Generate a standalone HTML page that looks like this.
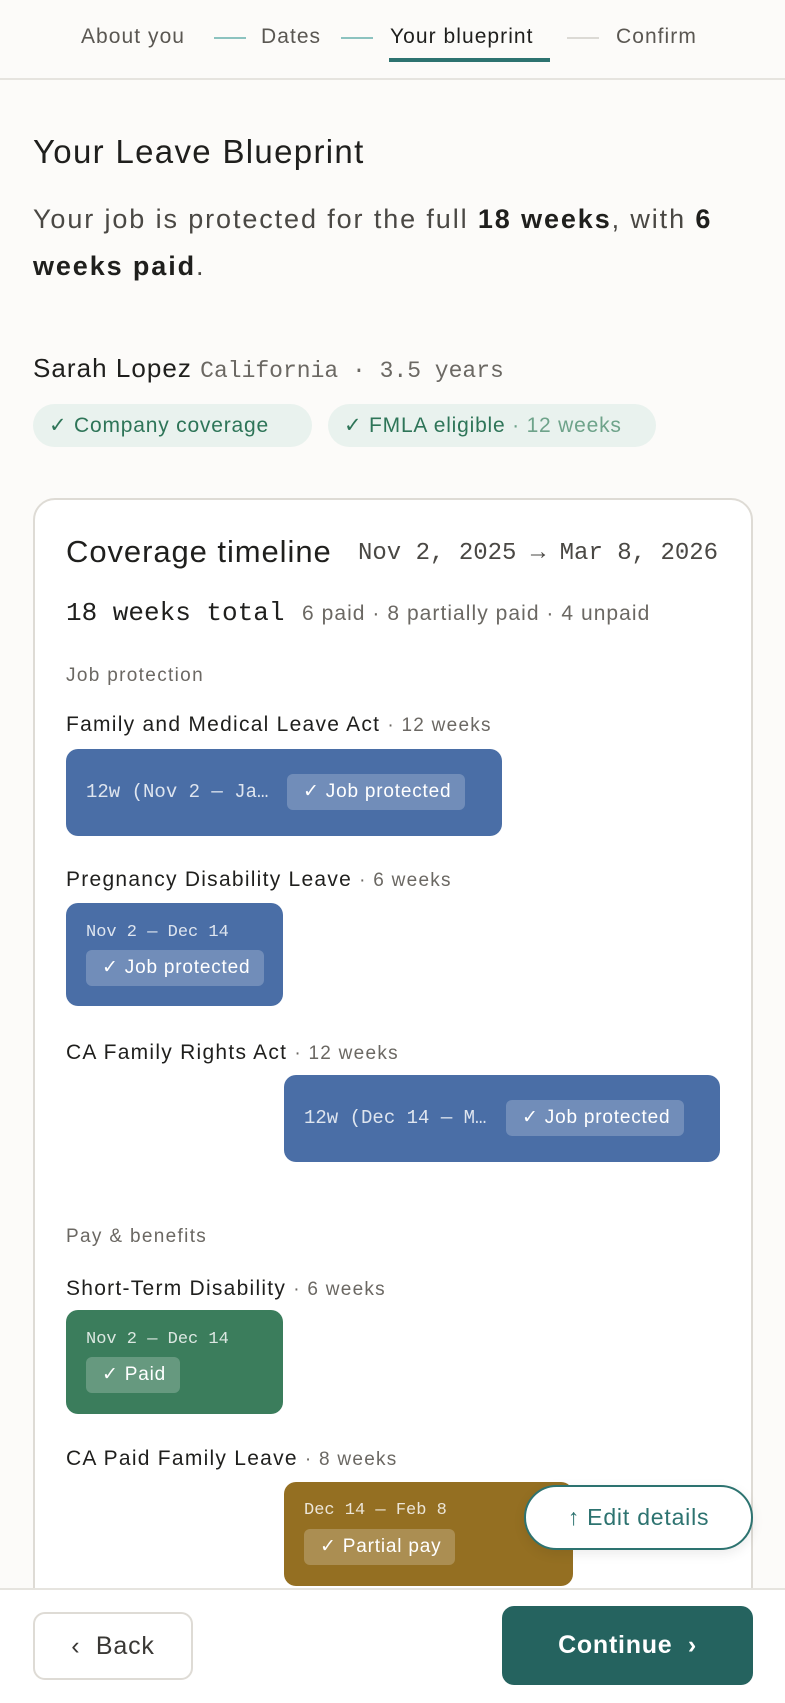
<!DOCTYPE html>
<html><head><meta charset="utf-8"><style>
*{box-sizing:border-box;margin:0;padding:0}
html,body{width:785px;height:1703px;overflow:hidden}
body{background:#fcfbf9;font-family:"Liberation Sans",sans-serif;color:#1f1f1d;position:relative;letter-spacing:0.05em}
.a{position:absolute;white-space:nowrap}
.mono{font-family:"Liberation Mono",monospace;letter-spacing:0}
.nav{font-size:21px;color:#5a5752;top:25px;letter-spacing:0.05em}
.dash{position:absolute;top:37px;height:2px;width:32px;background:#8cc3c0}
.chip{position:absolute;height:43px;top:404px;border-radius:22px;background:#e9f2ee;color:#2e7558;font-size:21px;line-height:43px;padding-left:16px}
.lbl{font-size:21px;color:#1f1f1d;letter-spacing:0.06em}
.lbl span{color:#6b6863;font-size:19px}
.bar{position:absolute;border-radius:12px;color:#fff}
.badge{position:absolute;background:rgba(255,255,255,.22);border-radius:6px;font-size:19px;line-height:36px;padding:0 14px 0 16px;color:#fff;white-space:nowrap}
.bm{font-family:"Liberation Mono",monospace;letter-spacing:0;font-size:19px;color:rgba(255,255,255,.82);position:absolute;white-space:nowrap}
.sec{font-size:19px;color:#6b6863;letter-spacing:0.07em}
</style></head><body>
<div class="a nav" style="left:81px">About you</div>
<div class="dash" style="left:214px"></div>
<div class="a nav" style="left:261px">Dates</div>
<div class="dash" style="left:341px"></div>
<div class="a nav" style="left:390px;color:#1f1f1d">Your blueprint</div>
<div class="a" style="left:389px;top:58px;width:161px;height:4px;background:#2d7370"></div>
<div class="dash" style="left:567px;background:#dcdad5"></div>
<div class="a nav" style="left:616px">Confirm</div>
<div class="a" style="left:0;top:78px;width:785px;height:2px;background:#e6e4df"></div>

<div class="a" style="left:33px;top:133px;font-size:33px;letter-spacing:0.04em">Your Leave Blueprint</div>
<div class="a" style="left:33px;top:196px;font-size:27px;line-height:47px;color:#4a4844;letter-spacing:0.07em">Your job is protected for the full <b style="color:#1f1f1d">18 weeks</b>, with <b style="color:#1f1f1d">6<br>weeks paid</b>.</div>

<div class="a" style="left:33px;top:353px;font-size:26px;letter-spacing:0.04em">Sarah Lopez <span class="mono" style="font-size:23px;color:#6b6863">California · 3.5 years</span></div>
<div class="chip" style="left:33px;width:279px">✓ Company coverage</div>
<div class="chip" style="left:328px;width:328px">✓ FMLA eligible <span style="color:#6ea38a">· 12 weeks</span></div>

<div class="a" style="left:33px;top:498px;width:720px;height:1250px;border:2px solid #dedbd5;border-radius:22px;background:#fff"></div>
<div class="a" style="left:66px;top:534px;font-size:31px;letter-spacing:0.03em">Coverage timeline</div>
<div class="a mono" style="left:358px;top:540px;font-size:24px;color:#4a4844">Nov 2, 2025 → Mar 8, 2026</div>
<div class="a mono" style="left:66px;top:598px;font-size:26px">18 weeks total</div>
<div class="a" style="left:302px;top:602px;font-size:21px;color:#6b6863;letter-spacing:0.05em">6 paid · 8 partially paid · 4 unpaid</div>

<div class="a sec" style="left:66px;top:665px">Job protection</div>
<div class="a lbl" style="left:66px;top:713px">Family and Medical Leave Act <span>· 12 weeks</span></div>
<div class="bar" style="left:66px;top:749px;width:436px;height:87px;background:#4a6ea6">
 <div class="bm" style="left:20px;top:32px">12w (Nov 2 — Ja…</div>
 <div class="badge" style="left:221px;top:25px">✓ Job protected</div></div>

<div class="a lbl" style="left:66px;top:868px">Pregnancy Disability Leave <span>· 6 weeks</span></div>
<div class="bar" style="left:66px;top:903px;width:217px;height:103px;background:#4a6ea6">
 <div class="bm" style="left:20px;top:20px;font-size:17px">Nov 2 — Dec 14</div>
 <div class="badge" style="left:20px;top:47px">✓ Job protected</div></div>

<div class="a lbl" style="left:66px;top:1041px">CA Family Rights Act <span>· 12 weeks</span></div>
<div class="bar" style="left:284px;top:1075px;width:436px;height:87px;background:#4a6ea6">
 <div class="bm" style="left:20px;top:32px">12w (Dec 14 — M…</div>
 <div class="badge" style="left:222px;top:25px">✓ Job protected</div></div>

<div class="a sec" style="left:66px;top:1226px">Pay &amp; benefits</div>
<div class="a lbl" style="left:66px;top:1277px">Short-Term Disability <span>· 6 weeks</span></div>
<div class="bar" style="left:66px;top:1310px;width:217px;height:104px;background:#3b7d5c">
 <div class="bm" style="left:20px;top:20px;font-size:17px">Nov 2 — Dec 14</div>
 <div class="badge" style="left:20px;top:47px">✓ Paid</div></div>

<div class="a lbl" style="left:66px;top:1447px">CA Paid Family Leave <span>· 8 weeks</span></div>
<div class="bar" style="left:284px;top:1482px;width:289px;height:104px;background:#946f22">
 <div class="bm" style="left:20px;top:19px;font-size:17px">Dec 14 — Feb 8</div>
 <div class="badge" style="left:20px;top:47px">✓ Partial pay</div></div>

<div class="a" style="left:524px;top:1485px;width:229px;height:65px;border:2px solid #2d7370;border-radius:33px;background:#fff;color:#2d7370;font-size:23px;line-height:61px;text-align:center;box-shadow:0 4px 12px rgba(0,0,0,.08)">↑ Edit details</div>

<div class="a" style="left:0;top:1588px;width:785px;height:115px;background:#fff;border-top:2px solid #e6e4df"></div>
<div class="a" style="left:33px;top:1612px;width:160px;height:68px;border:2px solid #dedbd5;border-radius:12px;background:#fff;font-size:25px;line-height:64px;text-align:center;color:#3a3835">‹&nbsp; Back</div>
<div class="a" style="left:502px;top:1606px;width:251px;height:79px;border-radius:12px;background:#25635f;color:#fff;font-size:25px;line-height:79px;text-align:center;font-weight:bold;letter-spacing:0.03em">Continue &nbsp;›</div>
</body></html>
